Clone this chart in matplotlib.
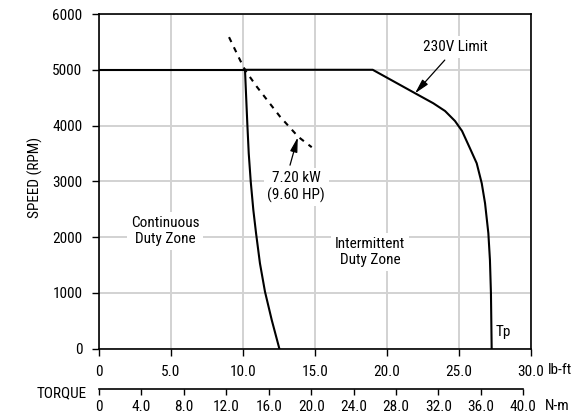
import matplotlib
matplotlib.use("Agg")
import matplotlib.pyplot as plt
from matplotlib import font_manager

# pick a narrow sans font if one is installed, else fall back
_narrow = None
_stretch = 'normal'
_names = {f.name for f in font_manager.fontManager.ttflist}
for cand in ['Liberation Sans Narrow', 'Arial Narrow', 'Roboto Condensed',
             'Open Sans Condensed', 'Noto Sans Condensed', 'Nimbus Sans Narrow']:
    if cand in _names:
        _narrow = cand
        break
if _narrow is None:
    for f in font_manager.fontManager.ttflist:
        if f.name in ('Noto Sans', 'Roboto', 'Liberation Sans', 'DejaVu Sans') and \
                str(f.stretch) in ('condensed', 'semi-condensed', '75', '87.5'):
            _narrow = f.name
            _stretch = f.stretch
            break

if _narrow is not None:
    plt.rcParams['font.family'] = [_narrow, 'Liberation Sans', 'DejaVu Sans']
    plt.rcParams['font.stretch'] = _stretch
    FS = 11
else:
    plt.rcParams['font.family'] = ['Liberation Sans', 'DejaVu Sans']
    FS = 10
plt.rcParams['font.size'] = FS

# ---- data ----
x_ticks_lbft = [0, 5, 10, 15, 20, 25, 30]
x_ticklabels_lbft = ['0', '5.0', '10.0', '15.0', '20.0', '25.0', '30.0']
x_ticks_nm = [0, 4, 8, 12, 16, 20, 24, 28, 32, 36, 40]
x_ticklabels_nm = ['0', '4.0', '8.0', '12.0', '16.0', '20.0', '24.0', '28.0', '32.0', '36.0', '40.0']
y_ticks = [0, 1000, 2000, 3000, 4000, 5000, 6000]

# continuous duty boundary: flat 5000 rpm line + near-vertical curve
cont_flat_torque = [0, 10.15]
cont_flat_speed = [5000, 5000]
cont_torque = [10.15, 10.22, 10.31, 10.41, 10.55, 10.73, 10.92, 11.19, 11.54, 12.01, 12.54]
cont_speed = [5000, 4579, 4041, 3503, 2994, 2486, 2068, 1530, 1022, 514, 0]

# 230 V intermittent limit
lim_torque = [10.15, 19.03, 21.98, 23.24, 24.06, 24.75, 25.24, 25.79, 26.26, 26.61,
              26.84, 27.07, 27.18, 27.25, 27.30]
lim_speed = [5000, 5000, 4579, 4400, 4261, 4082, 3903, 3593, 3324, 2965,
             2607, 2069, 1590, 993, 0]

# 7.20 kW constant-power line (dashed)
pwr_torque = [9.04, 9.81, 10.15, 10.97, 12.59, 13.86, 14.79]
pwr_speed = [5585, 5172, 4996, 4697, 4159, 3797, 3612]

LBFT_TO_NM = 1.35582

fig = plt.figure(figsize=(5.84, 4.16), dpi=100)
ax = fig.add_axes([99/584, 1-348.7/416, 431.5/584, 334.7/416])

ax.set_xlim(0, 30)
ax.set_ylim(0, 6000)
ax.set_xticks(x_ticks_lbft)
ax.set_xticklabels(x_ticklabels_lbft)
ax.set_yticks(y_ticks)
ax.grid(True, color='#d2d2d2', linewidth=1.4, zorder=0)
ax.set_axisbelow(True)
for s in ax.spines.values():
    s.set_linewidth(1.2)
    s.set_color('black')
ax.tick_params(axis='x', direction='out', length=5, width=1.0, pad=6.5, color='black')
ax.tick_params(axis='y', direction='out', length=5, width=1.0, pad=7, color='black')

lw = 1.5
ax.plot(cont_flat_torque, cont_flat_speed, color='black', lw=lw, zorder=3)
ax.plot(cont_torque, cont_speed, color='black', lw=lw, zorder=3, solid_joinstyle='round')
ax.plot(lim_torque, lim_speed, color='black', lw=lw, zorder=3, solid_joinstyle='round')
ax.plot(pwr_torque, pwr_speed, color='black', lw=lw, ls=(0, (2.6, 2.8)), zorder=3)

box = dict(boxstyle='square,pad=0.25', fc='white', ec='none')
ax.text(4.6, 2111, 'Continuous\nDuty Zone', ha='center', va='center', bbox=box,
        linespacing=1.2, zorder=4)
ax.text(18.85, 1736, 'Intermittent\nDuty Zone', ha='center', va='center', bbox=box,
        linespacing=1.2, zorder=4)
ax.text(27.55, 230, 'Tp', ha='left', va='baseline', zorder=4)

arrow = dict(arrowstyle='-|>,head_length=0.8,head_width=0.2', color='black', lw=0.9,
             shrinkA=0, shrinkB=0)
ax.annotate('', xy=(13.82, 3790), xytext=(13.28, 3290), arrowprops=arrow, zorder=5)
ax.text(13.71, 2902, '7.20 kW\n(9.60 HP)', ha='center', va='center', bbox=box,
        linespacing=1.2, zorder=4)
ax.annotate('', xy=(21.97, 4578), xytext=(24.04, 5174), arrowprops=arrow, zorder=5)
ax.text(24.77, 5413, '230V Limit', ha='center', va='center', bbox=box, zorder=4)

# secondary torque axis in N-m
sec = ax.secondary_xaxis(-40.0/334.7, functions=(lambda x: x * LBFT_TO_NM,
                                                   lambda x: x / LBFT_TO_NM))
sec.set_xticks(x_ticks_nm)
sec.set_xticklabels(x_ticklabels_nm)
sec.spines['bottom'].set_bounds(0, 40)
sec.spines['bottom'].set_linewidth(1.2)
sec.tick_params(axis='x', direction='out', length=4, width=1.0, pad=4)

fig.text(35/584, 1-177/416, 'SPEED (RPM)', rotation=90, ha='center', va='center')
fig.text(87/584, 1-393.5/416, 'TORQUE', ha='right', va='center')
fig.text(548/584, 1-370/416, 'lb-ft', ha='left', va='center')
fig.text(545/584, 1-405.5/416, 'N-m', ha='left', va='center')

fig.savefig('out.png', dpi=100)
